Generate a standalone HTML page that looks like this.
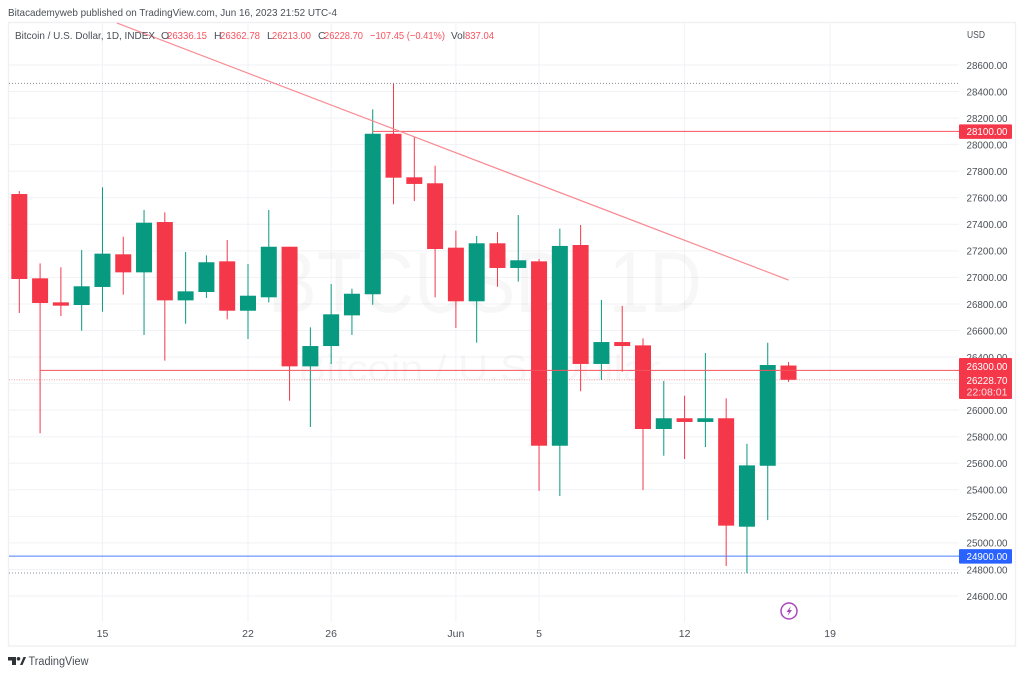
<!DOCTYPE html>
<html lang="en">
<head>
<meta charset="utf-8">
<title>BTCUSD 1D chart</title>
<style>
html,body{margin:0;padding:0;background:#fff;width:1024px;height:676px;overflow:hidden}
svg{display:block;font-family:"Liberation Sans",sans-serif}
</style>
</head>
<body>
<svg id="chart" width="1024" height="676" viewBox="0 0 1024 676" xmlns="http://www.w3.org/2000/svg">
  <rect x="0" y="0" width="1024" height="676" fill="#ffffff"/>
  <text x="8" y="16" font-size="10.5" fill="#4a4f57" textLength="329" lengthAdjust="spacingAndGlyphs">Bitacademyweb published on TradingView.com, Jun 16, 2023 21:52 UTC-4</text>
  <rect x="8.5" y="22.5" width="1007" height="623.5" fill="none" stroke="#eef0f3" stroke-width="1.4"/>
  <g id="grid"></g>
  <text x="268" y="312" font-size="86" fill="#000" fill-opacity="0.032" textLength="434" lengthAdjust="spacingAndGlyphs">BTCUSD, 1D</text>
  <text x="298" y="381" font-size="37" fill="#000" fill-opacity="0.032" textLength="362" lengthAdjust="spacingAndGlyphs">Bitcoin / U.S. Dollar</text>
  <g id="levels"></g>
  <g id="candles"></g>
  <g id="drawings"></g>
  <g font-size="10.5">
    <text x="15" y="39" fill="#4a4f57" textLength="140" lengthAdjust="spacingAndGlyphs">Bitcoin / U.S. Dollar, 1D, INDEX</text>
    <text x="161" y="39" fill="#4a4f57">O</text>
    <text x="167" y="39" fill="#f7525f" textLength="40" lengthAdjust="spacingAndGlyphs">26336.15</text>
    <text x="214" y="39" fill="#4a4f57">H</text>
    <text x="220" y="39" fill="#f7525f" textLength="40" lengthAdjust="spacingAndGlyphs">26362.78</text>
    <text x="267" y="39" fill="#4a4f57">L</text>
    <text x="272" y="39" fill="#f7525f" textLength="39" lengthAdjust="spacingAndGlyphs">26213.00</text>
    <text x="318" y="39" fill="#4a4f57">C</text>
    <text x="324" y="39" fill="#f7525f" textLength="39" lengthAdjust="spacingAndGlyphs">26228.70</text>
    <text x="370" y="39" fill="#f7525f" textLength="75" lengthAdjust="spacingAndGlyphs">−107.45 (−0.41%)</text>
    <text x="451" y="39" fill="#4a4f57" textLength="14" lengthAdjust="spacingAndGlyphs">Vol</text>
    <text x="465" y="39" fill="#f7525f" textLength="29" lengthAdjust="spacingAndGlyphs">837.04</text>
  </g>
  <rect x="959" y="24" width="55" height="597" fill="#ffffff"/>
  <text x="967" y="38" font-size="10.5" fill="#4a4f57" textLength="18" lengthAdjust="spacingAndGlyphs">USD</text>
  <g id="price-axis"></g>
  <g id="time-axis"></g>
  <g id="tags"></g>
  <g>
    <circle cx="789" cy="611" r="8" fill="#fff" stroke="#ab47bc" stroke-width="1.5"/>
    <path d="M791 606 L786.5 612 H789 L787.500 616 L792 610 H789.500 Z" fill="#ab47bc"/>
  </g>
  <g>
    <path d="M8 657 H16 V665 H12 V660.500 H8 Z M20 665 L23.500 657 H26 L22.500 665 Z" fill="#2f3338"/>
    <circle cx="18.500" cy="658.800" r="1.800" fill="#2f3338"/>
    <text x="28.500" y="665" font-size="11.500" fill="#4a4f57" textLength="60" lengthAdjust="spacingAndGlyphs">TradingView</text>
  </g>
</svg>
<script>
// Daily sessions
const categories = ["May 11","May 12","May 13","May 14","May 15","May 16","May 17","May 18","May 19","May 20","May 21","May 22","May 23","May 24","May 25","May 26","May 27","May 28","May 29","May 30","May 31","Jun 1","Jun 2","Jun 3","Jun 4","Jun 5","Jun 6","Jun 7","Jun 8","Jun 9","Jun 10","Jun 11","Jun 12","Jun 13","Jun 14","Jun 15","Jun 16","Jun 17"];
const opens  = [27628,26993,26812,26792,26928,27174,27038,27417,26827,26890,27121,26749,26850,27231,26330,26483,26714,26873,28082,27754,27709,27224,26820,27257,27071,27121,25732,27244,26348,26513,26488,25858,25939,25911,25939,25122,25581,26336.15];
const highs  = [27651,27106,27076,27206,27679,27307,27508,27490,27191,27166,27282,27101,27508,27231,26624,26950,26915,28266,28462,28060,27841,27352,27312,27340,27470,27139,27367,27395,26830,26785,26541,26220,26109,26430,26089,25747,26508,26362.78];
const lows   = [26732,25826,26709,26598,26742,26870,26566,26373,26651,26845,26684,26536,26812,26071,25873,26347,26566,26794,27551,27575,26850,26619,26508,26930,26968,25393,25353,26142,26227,26290,25398,25657,25632,25722,24826,24773,25172,26213];
const closes = [26988,26807,26787,26933,27179,27038,27412,26827,26895,27114,26749,26862,27231,26330,26483,26722,26877,28082,27751,27704,27214,26820,27257,27071,27129,25732,27237,26348,26513,26483,25858,25939,25911,25939,25130,25584,26340,26228.70];
const priceTicks = [28600,28400,28200,28000,27800,27600,27400,27200,27000,26800,26600,26400,26200,26000,25800,25600,25400,25200,25000,24800,24600];
const priceTickLabels = ["28600.00","28400.00","28200.00","28000.00","27800.00","27600.00","27400.00","27200.00","27000.00","26800.00","26600.00","26400.00","26200.00","26000.00","25800.00","25600.00","25400.00","25200.00","25000.00","24800.00","24600.00"];
const timeTickSlots = [4,11,15,21,25,32,39];
const timeTickLabels = ["15","22","26","Jun","5","12","19"];
// Drawing tools: prices and session slots
const upperLevel = 28100;
const upperLevelStart = 17;
const midLevel = 26300;
const midLevelStart = 1;
const supportLevel = 24900;
const lastPrice = 26228.70;
const rangeHigh = 28462;
const rangeLow = 24773;
const trendSlots = [4.7,37];
const trendPrices = [28916,26980];

const NS = 'http://www.w3.org/2000/svg';
const RED = '#f5374a';
const GREEN = '#089981';
const xAt = function (slot) { return 19.3 + 20.79 * slot; };
const yAt = function (price) { return 65 + (28600 - price) * 0.13275; };
const PANE_LEFT = 9;
const PANE_RIGHT = 959;

function make(tag, parent, attrs) {
  const el = document.createElementNS(NS, tag);
  Object.keys(attrs).forEach(function (k) { el.setAttribute(k, attrs[k]); });
  parent.appendChild(el);
  return el;
}
const gridG = document.getElementById('grid');
const levelsG = document.getElementById('levels');
const candlesG = document.getElementById('candles');
const drawingsG = document.getElementById('drawings');
const priceG = document.getElementById('price-axis');
const timeG = document.getElementById('time-axis');
const tagsG = document.getElementById('tags');

// grid + axis labels
priceTicks.forEach(function (p, i) {
  const line = make('line', gridG, {x1: PANE_LEFT, x2: PANE_RIGHT, y1: yAt(p), y2: yAt(p), stroke: '#f1f2f5', 'stroke-width': 1});
  
  
  const label = make('text', priceG, {x: 966.500, y: yAt(p) + 3.800, 'font-size': 10.500, fill: '#4a4f57', textLength: 41, lengthAdjust: 'spacingAndGlyphs'});
  label.textContent = priceTickLabels[i];
  
  
});
timeTickSlots.forEach(function (s, i) {
  const line = make('line', gridG, {x1: xAt(s), x2: xAt(s), y1: 23, y2: 622, stroke: '#f1f2f5', 'stroke-width': 1});
  
  
  const label = make('text', timeG, {x: xAt(s), y: 637, 'font-size': 10.500, fill: '#4a4f57', 'text-anchor': 'middle'});
  label.textContent = timeTickLabels[i];
  
  
});

// dotted range and last price lines
const highLine = make('line', levelsG, {x1: PANE_LEFT, x2: PANE_RIGHT, y1: yAt(rangeHigh), y2: yAt(rangeHigh), stroke: '#8a8f98', 'stroke-width': 1, 'stroke-dasharray': '1 2'});


const lowLine = make('line', levelsG, {x1: PANE_LEFT, x2: PANE_RIGHT, y1: yAt(rangeLow), y2: yAt(rangeLow), stroke: '#8a8f98', 'stroke-width': 1, 'stroke-dasharray': '1 2'});


const lastLine = make('line', levelsG, {x1: PANE_LEFT, x2: PANE_RIGHT, y1: yAt(lastPrice), y2: yAt(lastPrice), stroke: '#f7a0a8', 'stroke-width': 1, 'stroke-dasharray': '1 1.500'});



// candles
categories.forEach(function (day, i) {
  const up = closes[i] >= opens[i];
  const color = up ? GREEN : RED;
  const wick = make('line', candlesG, {x1: xAt(i), x2: xAt(i), y1: yAt(highs[i]), y2: yAt(lows[i]), stroke: color, 'stroke-width': 1});
  
  
  const top = yAt(Math.max(opens[i], closes[i]));
  const bottom = yAt(Math.min(opens[i], closes[i]));
  const body = make('rect', candlesG, {x: xAt(i) - 8, y: top, width: 16, height: bottom - top, fill: color});
  
  
});

// drawings
const upperLine = make('line', drawingsG, {x1: xAt(upperLevelStart), x2: PANE_RIGHT, y1: yAt(upperLevel), y2: yAt(upperLevel), stroke: '#f7525f', 'stroke-width': 1});


const midLine = make('line', drawingsG, {x1: xAt(midLevelStart), x2: PANE_RIGHT, y1: yAt(midLevel), y2: yAt(midLevel), stroke: '#f7525f', 'stroke-width': 1});


const supportLine = make('line', drawingsG, {x1: PANE_LEFT, x2: PANE_RIGHT, y1: yAt(supportLevel), y2: yAt(supportLevel), stroke: '#4a7dff', 'stroke-width': 1});


const trend = make('line', drawingsG, {x1: xAt(trendSlots[0]), y1: yAt(trendPrices[0]), x2: xAt(trendSlots[1]), y2: yAt(trendPrices[1]), stroke: '#f98a92', 'stroke-width': 1.200});



// price tags
const tagUpperBox = make('rect', tagsG, {x: 959, y: yAt(upperLevel) - 7, width: 53, height: 14.500, rx: 1, fill: RED});


const tagUpper = make('text', tagsG, {x: 966.500, y: yAt(upperLevel) + 3.800, 'font-size': 10.500, fill: '#fff', textLength: 41, lengthAdjust: 'spacingAndGlyphs'});
tagUpper.textContent = upperLevel.toFixed(2);


const tagMidBox = make('rect', tagsG, {x: 959, y: 358, width: 53, height: 41, rx: 1, fill: RED});


const tagMid = make('text', tagsG, {x: 966.500, y: yAt(midLevel) - 0.500, 'font-size': 10.500, fill: '#fff', textLength: 41, lengthAdjust: 'spacingAndGlyphs'});
tagMid.textContent = midLevel.toFixed(2);


const tagLast = make('text', tagsG, {x: 966.500, y: yAt(lastPrice) + 4, 'font-size': 10.500, fill: '#fff', textLength: 41, lengthAdjust: 'spacingAndGlyphs'});
tagLast.textContent = lastPrice.toFixed(2);


const tagTimer = make('text', tagsG, {x: 966.500, y: 395.500, 'font-size': 10.500, fill: '#ffe0e3', textLength: 41, lengthAdjust: 'spacingAndGlyphs'});
tagTimer.textContent = '22:08:01';


const tagSupportBox = make('rect', tagsG, {x: 959, y: yAt(supportLevel) - 7, width: 53, height: 14.500, rx: 1, fill: '#2962ff'});


const tagSupport = make('text', tagsG, {x: 966.500, y: yAt(supportLevel) + 3.800, 'font-size': 10.500, fill: '#fff', textLength: 41, lengthAdjust: 'spacingAndGlyphs'});
tagSupport.textContent = supportLevel.toFixed(2);


</script>
</body>
</html>
